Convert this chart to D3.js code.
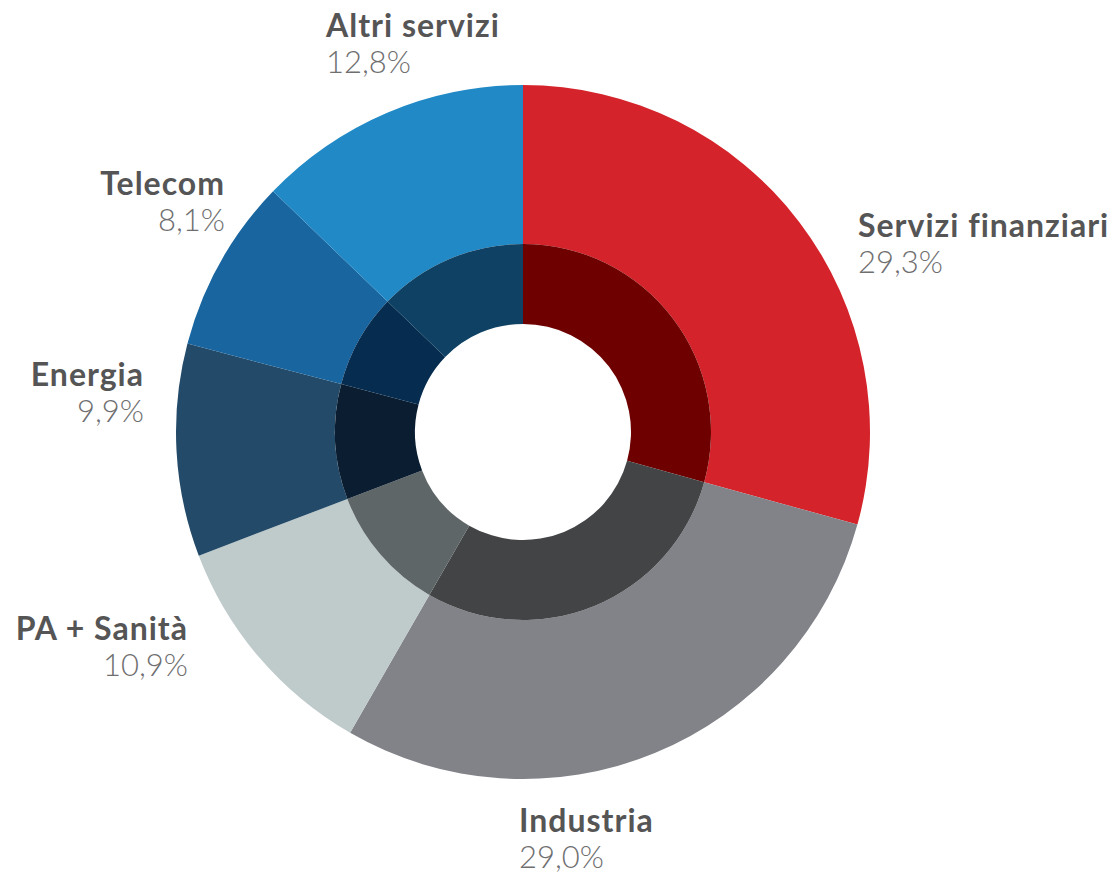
<!DOCTYPE html>
<html>
<head>
<meta charset="utf-8">
<script src="https://cdn.jsdelivr.net/npm/d3@7"></script>
<style>
  html, body { margin: 0; padding: 0; background: #fff; }
  svg { display: block; }
</style>
</head>
<body>
<div id="chart"></div>
<script>
// sectors, clockwise from 12 o'clock
const sectors = ["Servizi finanziari", "Industria", "PA + Sanità", "Energia", "Telecom", "Altri servizi"];
const shares = [29.3, 29.0, 10.9, 9.9, 8.1, 12.8];
const outerColors = ["#d5232b", "#818388", "#bfcaca", "#234a68", "#1865a0", "#2189c6"];
const innerColors = ["#6e0000", "#434446", "#5f6667", "#0b1d31", "#062c4f", "#0e4163"];
const pctLabels = ["29,3%", "29,0%", "10,9%", "9,9%", "8,1%", "12,8%"];

const width = 1112, height = 877;
const cx = 523, cy = 432;
const rOuter = 347, rMid = 188, rHole = 108;

// label anchors: [x, y of name baseline, anchor]
const labelPos = [
  [858, 237, "start"],
  [519, 832, "start"],
  [188, 640, "end"],
  [144, 386, "end"],
  [225, 195, "end"],
  [326, 37, "start"]
];

const svg = d3.select("#chart").append("svg")
    .attr("width", width)
    .attr("height", height);

const pie = d3.pie().sort(null).value(d => d.value);
const arcs = pie(sectors.map((s, i) => ({name: s, value: shares[i], i})));

const g = svg.append("g").attr("transform", `translate(${cx},${cy})`);

const outerArc = d3.arc().innerRadius(rMid).outerRadius(rOuter);
const innerArc = d3.arc().innerRadius(rHole).outerRadius(rMid);

g.selectAll("path.outer")
    .data(arcs)
    .join("path")
    .attr("class", "outer")
    .attr("d", outerArc)
    .attr("fill", d => outerColors[d.data.i]);

g.selectAll("path.inner")
    .data(arcs)
    .join("path")
    .attr("class", "inner")
    .attr("d", innerArc)
    .attr("fill", d => innerColors[d.data.i]);

const labels = svg.append("g")
    .selectAll("g")
    .data(arcs)
    .join("g")
    .attr("transform", d => `translate(${labelPos[d.data.i][0]},${labelPos[d.data.i][1]})`)
    .attr("text-anchor", d => labelPos[d.data.i][2]);

labels.append("text")
    .attr("font-family", "Lato, sans-serif")
    .attr("font-weight", 700)
    .attr("font-size", 32)
    .attr("letter-spacing", 1)
    .attr("fill", "#555556")
    .text(d => d.data.name);

labels.append("text")
    .attr("y", 36)
    .attr("font-family", "Lato, sans-serif")
    .attr("font-weight", 300)
    .attr("font-size", 31)
    .attr("fill", "#6f6f70")
    .text(d => pctLabels[d.data.i]);
</script>
</body>
</html>
